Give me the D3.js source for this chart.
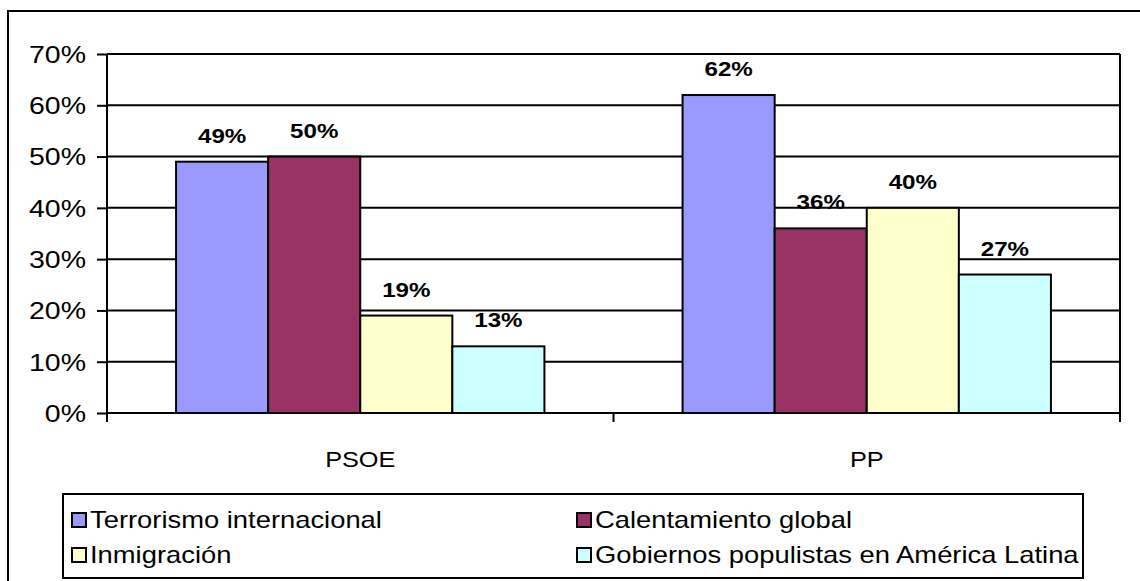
<!DOCTYPE html>
<html>
<head>
<meta charset="utf-8">
<script src="https://cdn.jsdelivr.net/npm/d3@7"></script>
<style>
    body { margin: 0; background: #fff; }
    text { font-family: "Liberation Sans", Arial, sans-serif; fill: #000; }
</style>
</head>
<body>
<svg id="chart"></svg>
<script>
// data
var categories = ["PSOE", "PP"];
var seriesNames = ["Terrorismo internacional", "Calentamiento global", "Inmigración", "Gobiernos populistas en América Latina"];
var terrorismo = [0.49, 0.62];
var calentamiento = [0.50, 0.36];
var inmigracion = [0.19, 0.40];
var gobiernos = [0.13, 0.27];
var seriesColors = ["#9999FF", "#993366", "#FFFFCC", "#CCFFFF"];
var yTicks = [0, 0.1, 0.2, 0.3, 0.4, 0.5, 0.6, 0.7];

var seriesValues = [terrorismo, calentamiento, inmigracion, gobiernos];

var width = 1140,
    height = 581,
    SX = 1.15; // the original picture is stretched sideways

var plot = {left: 107, right: 1120, top: 54, bottom: 413};

var svg = d3.select("#chart")
    .attr("width", width)
    .attr("height", height);

// outer frame, runs off the right and bottom edge
svg.append("rect")
    .attr("x", 8).attr("y", 11)
    .attr("width", 1200).attr("height", 700)
    .attr("fill", "none").attr("stroke", "#000").attr("stroke-width", 2);

var x0 = d3.scaleBand()
    .domain(categories)
    .range([plot.left, plot.right]);

var x1 = d3.scaleBand()
    .domain(seriesNames)
    .range([0, x0.bandwidth()])
    .paddingInner(0)
    .paddingOuter(0.75);

var y = d3.scaleLinear()
    .domain([0, 0.7])
    .range([plot.bottom, plot.top]);

// gridlines
svg.append("g")
    .selectAll("line")
    .data(yTicks)
    .enter().append("line")
    .attr("x1", plot.left).attr("x2", plot.right)
    .attr("y1", function (d) { return y(d); })
    .attr("y2", function (d) { return y(d); })
    .attr("stroke", "#000").attr("stroke-width", 2);

svg.append("line")
    .attr("x1", plot.right).attr("x2", plot.right)
    .attr("y1", plot.top).attr("y2", plot.bottom)
    .attr("stroke", "#000").attr("stroke-width", 2);

// bars
var groups = svg.append("g")
    .selectAll("g")
    .data(categories)
    .enter().append("g")
    .attr("transform", function (d) { return "translate(" + x0(d) + ",0)"; });

groups.selectAll("rect")
    .data(function (c, ci) {
        return seriesNames.map(function (s, si) {
            return {series: s, value: seriesValues[si][ci], color: seriesColors[si]};
        });
    })
    .enter().append("rect")
    .attr("x", function (d) { return x1(d.series); })
    .attr("y", function (d) { return y(d.value); })
    .attr("width", x1.bandwidth())
    .attr("height", function (d) { return y(0) - y(d.value); })
    .attr("fill", function (d) { return d.color; })
    .attr("stroke", "#000").attr("stroke-width", 2);

groups.selectAll("text.val")
    .data(function (c, ci) {
        return seriesNames.map(function (s, si) {
            return {series: s, value: seriesValues[si][ci]};
        });
    })
    .enter().append("text")
    .attr("class", "val")
    .attr("transform", function (d) {
        return "translate(" + (x1(d.series) + x1.bandwidth() / 2) + "," + (y(d.value) - 19) + ") scale(" + SX + ",1)";
    })
    .attr("text-anchor", "middle")
    .style("font-size", "21px")
    .style("font-weight", "bold")
    .text(function (d) { return Math.round(d.value * 100) + "%"; });

// y axis
var yAxis = d3.axisLeft(y)
    .tickValues(yTicks)
    .tickSize(10)
    .tickPadding(0)
    .tickFormat(d3.format(".0%"));

var yAxisG = svg.append("g")
    .attr("transform", "translate(" + plot.left + ",0)")
    .call(yAxis);
yAxisG.select(".domain").attr("stroke-width", 2).attr("d", "M0," + plot.top + "V" + plot.bottom);
yAxisG.selectAll(".tick line").attr("stroke-width", 2);
yAxisG.selectAll(".tick text")
    .attr("x", 0)
    .attr("transform", "translate(-21,1) scale(1.24,1)")
    .style("font-size", "23px")
    .style("font-family", "'Liberation Sans', Arial, sans-serif");

// x axis
var xAxis = d3.axisBottom(x0)
    .tickSize(0)
    .tickPadding(0);

var xAxisG = svg.append("g")
    .attr("transform", "translate(0," + plot.bottom + ")")
    .call(xAxis);
xAxisG.select(".domain").attr("stroke-width", 2).attr("d", "M" + plot.left + ",0H" + plot.right);
xAxisG.selectAll(".tick text")
    .attr("y", 0).attr("dy", 0)
    .attr("transform", "translate(0,54) scale(" + SX + ",1)")
    .style("font-size", "22px")
    .style("font-family", "'Liberation Sans', Arial, sans-serif");

// x tick marks at band edges
svg.append("g")
    .selectAll("line")
    .data(categories.concat([null]))
    .enter().append("line")
    .attr("x1", function (d) { return d ? x0(d) : plot.right; })
    .attr("x2", function (d) { return d ? x0(d) : plot.right; })
    .attr("y1", plot.bottom).attr("y2", plot.bottom + 9)
    .attr("stroke", "#000").attr("stroke-width", 2);

// legend
var legend = svg.append("g");
legend.append("rect")
    .attr("x", 63).attr("y", 494)
    .attr("width", 1020).attr("height", 84)
    .attr("fill", "#fff").attr("stroke", "#000").attr("stroke-width", 2);

var legendCols = [72, 577],
    legendRows = [520, 555];

var items = legend.selectAll("g.item")
    .data(seriesNames)
    .enter().append("g")
    .attr("class", "item")
    .attr("transform", function (d, i) {
        return "translate(" + legendCols[i % 2] + "," + legendRows[Math.floor(i / 2)] + ")";
    });

items.append("rect")
    .attr("x", 0).attr("y", -7)
    .attr("width", 14).attr("height", 14)
    .attr("fill", function (d, i) { return seriesColors[i]; })
    .attr("stroke", "#000").attr("stroke-width", 2);

items.append("text")
    .attr("transform", "translate(18,8) scale(1.19,1)")
    .style("font-size", "23px")
    .text(function (d) { return d; });
</script>
</body>
</html>
